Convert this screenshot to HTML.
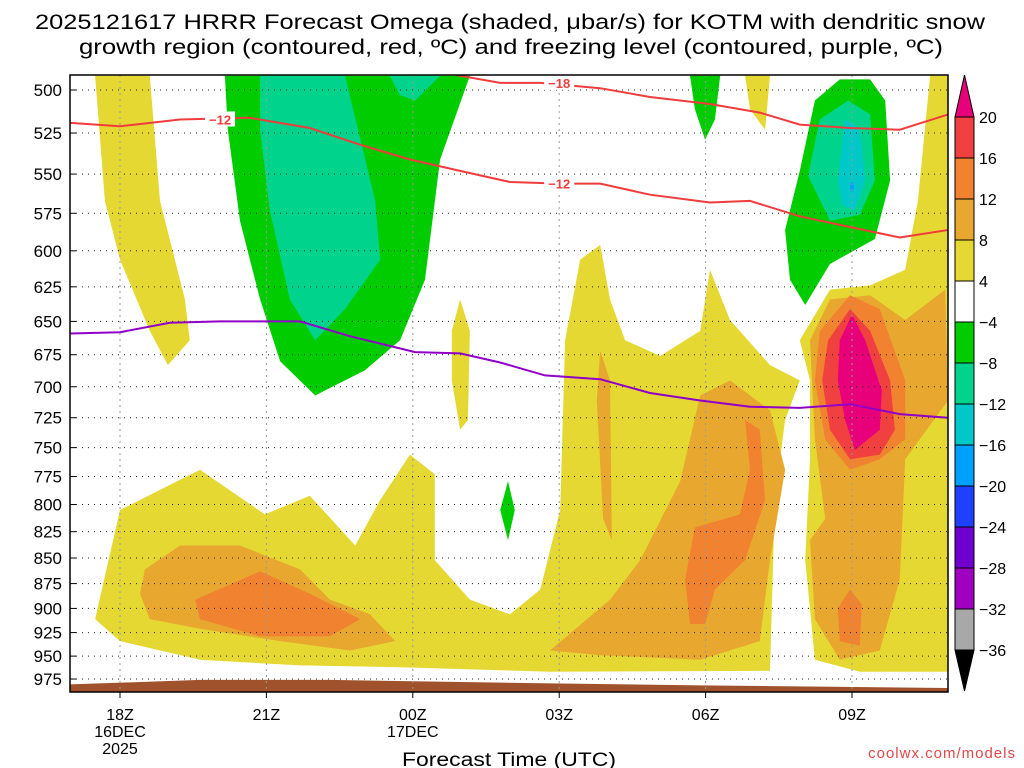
<!DOCTYPE html>
<html><head><meta charset="utf-8"><style>
html,body{margin:0;padding:0;background:#fff;}
svg{display:block;font-family:"Liberation Sans",sans-serif;}
</style></head><body>
<svg id="chart" width="1024" height="768" viewBox="0 0 1024 768">
<defs><clipPath id="plotclip"><rect x="70" y="75" width="878" height="617"/></clipPath></defs>
<text x="510" y="29" text-anchor="middle" font-size="21" textLength="950" lengthAdjust="spacingAndGlyphs">2025121617 HRRR Forecast Omega (shaded, μbar/s) for KOTM with dendritic snow</text>
<text x="511" y="54" text-anchor="middle" font-size="21" textLength="864" lengthAdjust="spacingAndGlyphs">growth region (contoured, red, ºC) and freezing level (contoured, purple, ºC)</text>
<rect x="70" y="75" width="878" height="617" fill="#fff"/>
<g id="fills" clip-path="url(#plotclip)"></g>
<g id="grid"></g>
<g id="lines" clip-path="url(#plotclip)"></g>
<rect x="70" y="75" width="878" height="617" fill="none" stroke="#000" stroke-width="1.5"/>
<g id="axes"></g>
<g id="cbar"></g>
<text x="509" y="766" text-anchor="middle" font-size="19" textLength="214" lengthAdjust="spacingAndGlyphs">Forecast Time (UTC)</text>
<text x="1016" y="758" text-anchor="end" font-size="15" fill="#e04848" letter-spacing="1">coolwx.com/models</text>
</svg>
<script>
const pLevels=[500,525,550,575,600,625,650,675,700,725,750,775,800,825,850,875,900,925,950,975];
const xTickHours=[18,21,24,27,30,33];
const xTickLabels=[["18Z","16DEC","2025"],["21Z"],["00Z","17DEC"],["03Z"],["06Z"],["09Z"]];
const cbarLevels=[20,16,12,8,4,-4,-8,-12,-16,-20,-24,-28,-32,-36];
const cbarColors=["#f04040","#f08230","#e8a830","#e6d832","#ffffff","#00cc00","#00d48c","#00c8c8","#00a0ff","#2040ff","#7000d0","#a000c0","#a8a8a8"];
// contour lines: hours since 00Z 16DEC, pressure (mb)
const minus18Hours=[24.56,24.97,25.79,26.61,27.84,28.86,30.09,31.11,31.93,32.96,33.98,34.97];
const minus18Press=[489,492,496,496,499,504,508,513,520,522,523,514];
const minus12Hours=[16.98,18,19.23,20.66,21.89,22.92,23.94,24.97,25.99,27.02,27.84,28.86,30.09,30.91,31.93,32.96,33.98,34.97];
const minus12Press=[519,521,517,516,522,532,541,548,555,556,556,563,568,567,577,584,591,586];
const freezeHours=[16.98,18,19.02,20.05,21.69,22.71,24.05,24.97,25.79,26.71,27.84,28.86,29.89,30.91,31.93,32.96,33.98,34.97];
const freezePress=[659,658,651,650,650,661,673,674,681,691,694,705,711,716,717,714,722,725];
const groundHours=[16.98,19.64,22.3,27.02,29.89,34.97];
const groundPress=[981,976,976,980,982,985];
// shaded regions: [hour, pressure]
const yellowRegions=[
[[17.49,492],[18.61,492],[18.82,567],[19.33,634],[19.43,664],[18.98,683],[18.61,657],[18,606],[17.69,567]],
[[17.49,911],[18,805],[19.64,769],[20.97,809],[21.89,792],[22.82,838],[23.33,796],[23.94,756],[24.45,773],[24.45,852],[25.17,891],[25.99,906],[26.61,881],[27.02,805],[27.12,664],[27.43,606],[27.84,596],[28.04,634],[28.35,664],[29.07,676],[29.89,657],[30.09,613],[30.5,649],[31.32,683],[31.93,695],[31.63,727],[31.42,796],[31.32,966],[26.81,967],[23.74,962],[21.69,960],[19.64,954],[18,934]],
[[32.14,695],[31.93,664],[32.55,627],[33.37,624],[34.09,613],[34.35,567],[34.6,492],[34.97,492],[34.97,967],[33.16,967],[32.24,954],[32.04,852],[32.14,760]],
[[30.81,492],[31.32,492],[31.22,523],[30.91,511]],
[[24.97,634],[25.17,657],[25.13,727],[24.97,735],[24.8,695],[24.8,657]]];
const tanRegions=[
[[18.51,861],[19.23,838],[20.46,838],[21.69,861],[22.3,891],[23.12,906],[23.64,934],[22.71,944],[21.28,934],[19.64,921],[18.61,911],[18.41,885]],
[[26.81,944],[28.04,891],[28.66,852],[29.48,779],[29.89,707],[30.5,695],[31.32,719],[31.63,769],[31.32,852],[31.11,934],[29.89,954],[27.84,949]],
[[27.84,672],[28.04,695],[28.08,833],[27.9,813],[27.77,711]],
[[32.14,664],[32.55,634],[33.37,631],[34.09,649],[34.91,627],[34.97,711],[34.09,760],[33.98,871],[33.57,944],[32.75,954],[32.24,911],[32.14,833],[32.45,813],[32.24,743]]];
const orangeRegions=[
[[19.54,891],[20.87,863],[21.89,885],[22.92,911],[22.3,929],[20.87,929],[19.64,911]],
[[29.58,871],[29.78,821],[30.7,809],[30.91,769],[30.81,727],[31.11,735],[31.22,796],[30.81,852],[30.19,881],[29.99,916],[29.68,916]],
[[32.71,900],[32.96,881],[33.2,896],[33.16,939],[32.75,934]],
[[32.34,657],[32.96,631],[33.57,641],[34.09,695],[34.09,743],[33.57,760],[32.96,769],[32.45,743],[32.24,695]]];
const redRegions=[[[32.51,664],[32.96,641],[33.37,657],[33.78,695],[33.88,735],[33.57,756],[32.96,760],[32.55,735],[32.39,695]]];
const magentaRegions=[[[32.75,664],[33.0,645],[33.27,664],[33.61,703],[33.57,735],[33.06,752],[32.86,727],[32.71,695]]];
const greenRegions=[
[[20.15,492],[25.17,492],[24.56,541],[24.25,620],[23.74,664],[23.02,687],[22.0,707],[21.28,680],[20.87,634],[20.46,580],[20.21,523]],
[[29.68,492],[30.3,492],[30.19,517],[29.99,529],[29.78,511]],
[[31.73,620],[31.63,586],[31.93,548],[32.24,506],[32.75,494],[33.37,494],[33.68,506],[33.78,554],[33.47,592],[32.55,609],[32.04,638]],
[[25.95,779],[26.09,805],[25.95,833],[25.79,805]]];
const tealRegions=[
[[20.87,492],[22.61,492],[23.23,567],[23.33,606],[22.61,641],[22.0,664],[21.48,634],[21.07,573],[20.87,523]],
[[23.53,492],[24.56,492],[24.05,506],[23.74,503]],
[[32.1,551],[32.34,517],[32.92,506],[33.37,514],[33.47,554],[33.16,576],[32.55,580]]];
const cyanRegions=[[[32.71,554],[32.86,517],[33.16,522],[33.27,554],[33.06,573],[32.81,570]]];

const NS="http://www.w3.org/2000/svg";
function px(h){return 120+(h-18)*48.8;}
function py(p){return 90+882*Math.log(p/500);}
function mk(tag,attrs,parent){const e=document.createElementNS(NS,tag);for(const k in attrs)e.setAttribute(k,attrs[k]);parent.appendChild(e);return e;}
const fills=document.getElementById('fills');
function drawRegions(regs,color,name){regs.forEach(r=>{
 const pts=r.map(d=>px(d[0]).toFixed(1)+","+py(d[1]).toFixed(1)).join(" ");
 const e=mk('polygon',{points:pts,fill:color},fills);
 
 
});}
drawRegions(yellowRegions,"#e6d832","omega-4-8-region");
drawRegions(tanRegions,"#e8a830","omega-8-12-region");
drawRegions(orangeRegions,"#f08230","omega-12-16-region");
drawRegions(redRegions,"#f04040","omega-16-20-region");
drawRegions(magentaRegions,"#e8007a","omega-gt20-region");
drawRegions(greenRegions,"#00cc00","omega-minus4-region");
drawRegions(tealRegions,"#00d48c","omega-minus8-region");
drawRegions(cyanRegions,"#00c8c8","omega-minus12-region");
{let pts=groundHours.map((h,i)=>px(h)+","+py(groundPress[i])).join(" ");
 pts+=" "+px(groundHours[groundHours.length-1])+",700 "+px(groundHours[0])+",700";
 const g=mk('polygon',{points:pts,fill:"#a0522d"},fills);
 
 }
{const b=mk('ellipse',{cx:px(33.0),cy:py(558),rx:2,ry:5,fill:"#00a0ff"},fills);
 
 }

const grid=document.getElementById('grid');
pLevels.forEach(p=>{
 const l=mk('line',{x1:70,x2:948,y1:py(p),y2:py(p),stroke:"#222","stroke-width":1,"stroke-dasharray":"1 5"},grid);
 
 
});
xTickHours.forEach(h=>{
 const l=mk('line',{x1:px(h),x2:px(h),y1:75,y2:692,stroke:"#999","stroke-width":1,"stroke-dasharray":"2 4"},grid);
 
 
});

const lines=document.getElementById('lines');
function drawLine(hs,ps,color,name){
 const d=hs.map((h,i)=>(i?"L":"M")+px(h).toFixed(1)+","+py(ps[i]).toFixed(1)).join(" ");
 const e=mk('path',{d:d,fill:"none",stroke:color,"stroke-width":2},lines);
 
 
}
drawLine(minus18Hours,minus18Press,"#f03c3c","contour-minus18");
drawLine(minus12Hours,minus12Press,"#f03c3c","contour-minus12");
drawLine(freezeHours,freezePress,"#9000c8","freezing-level");
function clabel(h,p,t,name){
 const bg=mk('rect',{x:px(h)-15,y:py(p)-8,width:30,height:15,fill:"#fff"},lines);
 
 
 const tx=mk('text',{x:px(h),y:py(p)+5,"text-anchor":"middle","font-size":13,"font-weight":"bold",fill:"#f03c3c"},lines);
 tx.textContent=t;
 
 
}
clabel(27.0,496,"−18","contour-label-minus18");
clabel(20.05,517,"−12","contour-label-minus12-a");
clabel(27.0,556,"−12","contour-label-minus12-b");

const axes=document.getElementById('axes');
pLevels.forEach(p=>{
 const t=mk('text',{x:62,y:py(p)+6,"text-anchor":"end","font-size":17},axes);
 t.textContent=p;
 
 
 const tk=mk('line',{x1:70,x2:76,y1:py(p),y2:py(p),stroke:"#000"},axes);
 
 
});
xTickHours.forEach((h,i)=>{
 xTickLabels[i].forEach((s,j)=>{
  const t=mk('text',{x:px(h),y:720+j*17,"text-anchor":"middle","font-size":16},axes);
  t.textContent=s;
  
  
 });
 const tk=mk('line',{x1:px(h),x2:px(h),y1:692,y2:698,stroke:"#000"},axes);
 
 
});

const cb=document.getElementById('cbar');
const cbTop=117,cell=41,cx0=955,cw=19;
{const t=mk('polygon',{points:`${cx0},${cbTop} ${cx0+cw},${cbTop} ${cx0+cw/2},75`,fill:"#e8007a",stroke:"#000"},cb);
 
 }
cbarColors.forEach((c,i)=>{
 const r=mk('rect',{x:cx0,y:cbTop+i*cell,width:cw,height:cell,fill:c,stroke:"#000","stroke-width":1},cb);
 
 
});
{const yb=cbTop+cbarColors.length*cell;
 const t=mk('polygon',{points:`${cx0},${yb} ${cx0+cw},${yb} ${cx0+cw/2},691`,fill:"#000",stroke:"#000"},cb);
 
 }
cbarLevels.forEach((v,i)=>{
 const t=mk('text',{x:979,y:cbTop+i*cell+6,"font-size":16},cb);
 t.textContent=v<0?"−"+(-v):String(v);
 
 
});
</script>
</body></html>
